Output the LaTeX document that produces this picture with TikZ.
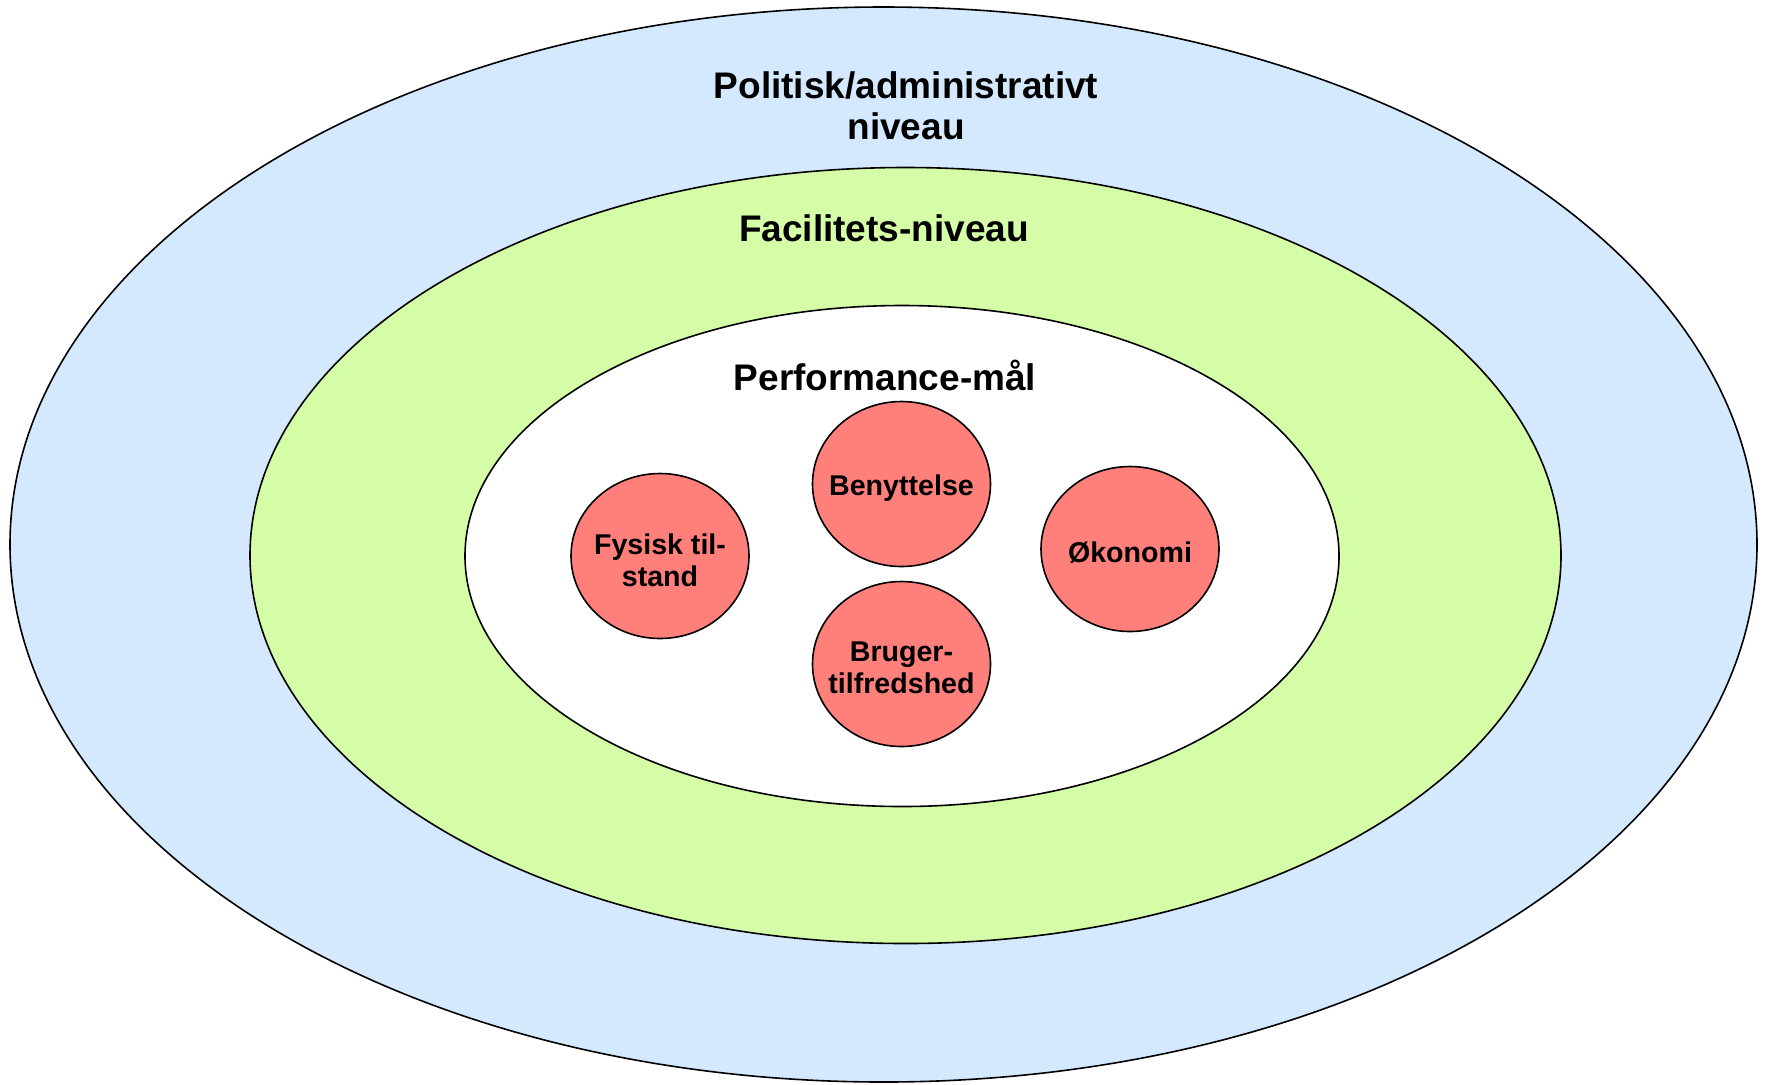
\documentclass[tikz,border=0pt]{standalone}
\usepackage{fontspec}
\setmainfont{Liberation Sans}
\usepackage{xcolor}
\definecolor{myblue}{RGB}{212,233,254}
\definecolor{mygreen}{RGB}{213,252,166}
\definecolor{myred}{RGB}{255,127,122}
\usetikzlibrary{shapes.geometric}

\begin{document}
\begin{tikzpicture}[x=0.5pt,y=-0.5pt,line width=0.8pt]
	\tikzstyle{ring}=[draw,ellipse,inner sep=0pt];
	\tikzstyle{maal}=[draw,ellipse,inner sep=0pt,fill=myred,minimum width=89pt,minimum height=82.5pt];
	\tikzstyle{maaltxt}=[align=center,inner sep=0pt,yshift=-2pt,font=\bfseries\fontsize{14.3}{16}\selectfont];
	\tikzstyle{titel}=[align=center,font=\bfseries\fontsize{18.5}{20.5}\selectfont];
	\useasboundingbox (0,0) rectangle (1767,1084);
	% niveauer
	\node[ring,fill=myblue,minimum width=873.5pt,minimum height=537.5pt] (politisk) at (883.5,544.5) {};
	\node[ring,fill=mygreen,minimum width=655.5pt,minimum height=388pt] (facilitet) at (905.5,555.5) {};
	\node[ring,fill=white,minimum width=437pt,minimum height=250.5pt] (performance) at (902,556) {};
	\node[titel] (politisktxt) at (906,106) {Politisk/administrativt\\niveau};
	\node[titel] (facilitettxt) at (884,228) {Facilitets-niveau};
	\node[titel] (performancetxt) at (885,375) {Performance-mål};
	% performance-mål
	\node[maal,label={[maaltxt]center:Fysisk til-\\stand}] (fysisk) at (660,556) {};
	\node[maal,label={[maaltxt]center:Benyttelse}] (benyt) at (901.5,484) {};
	\node[maal,label={[maaltxt]center:Økonomi}] (oekonomi) at (1130,549) {};
	\node[maal,label={[maaltxt]center:Bruger-\\tilfredshed}] (bruger) at (901.5,664) {};
\end{tikzpicture}
\end{document}
